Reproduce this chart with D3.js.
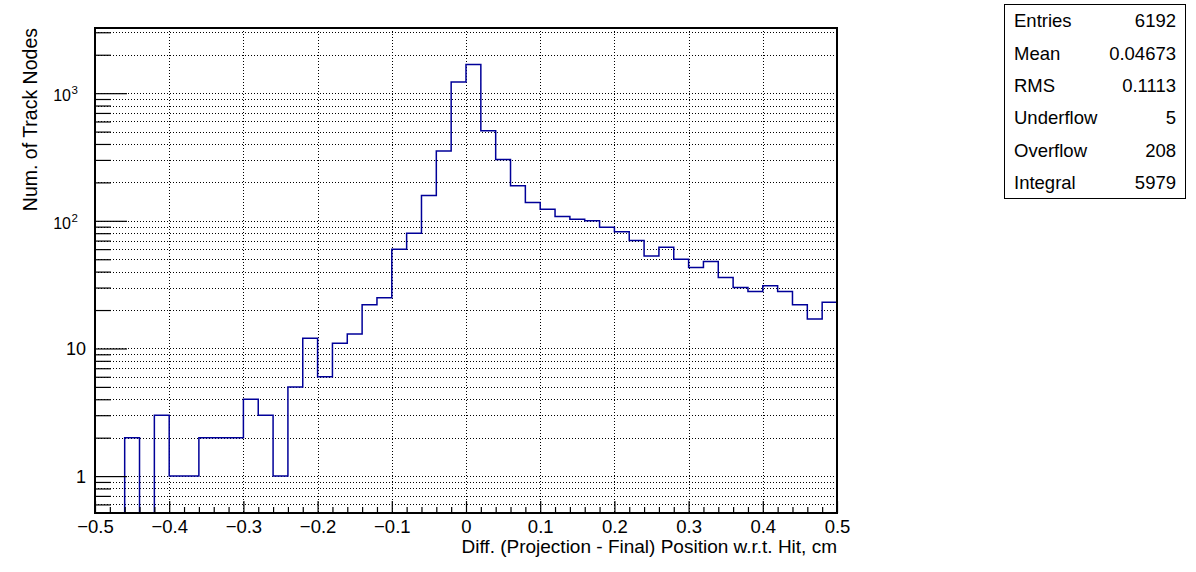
<!DOCTYPE html>
<html>
<head>
<meta charset="utf-8">
<script src="https://cdn.jsdelivr.net/npm/d3@7"></script>
<style>
  html, body { margin: 0; padding: 0; background: #fff; }
  text { font-family: "Liberation Sans", Arial, Helvetica, sans-serif; fill: #000; }
</style>
</head>
<body>
<svg id="chart" width="1196" height="572"></svg>
<script>
// ---- data ----
const binLowEdges = [-0.5,-0.48,-0.46,-0.44,-0.42,-0.4,-0.38,-0.36,-0.34,-0.32,
  -0.3,-0.28,-0.26,-0.24,-0.22,-0.2,-0.18,-0.16,-0.14,-0.12,
  -0.1,-0.08,-0.06,-0.04,-0.02,0,0.02,0.04,0.06,0.08,
  0.1,0.12,0.14,0.16,0.18,0.2,0.22,0.24,0.26,0.28,
  0.3,0.32,0.34,0.36,0.38,0.4,0.42,0.44,0.46,0.48];
const binHighEdge = 0.5;
const counts = [0,0,2,0,3,1,1,2,2,2,
  4,3,1,5,12,6,11,13,22,25,
  60,80,158,353,1225,1675,507,302,188,139,
  123,108,103,100,89,82,70,53,62,50,
  43,48,36,30,28,31,28,22,17,23];

const xMajorTicks = [-0.5,-0.4,-0.3,-0.2,-0.1,0,0.1,0.2,0.3,0.4,0.5];
const xTickLabels = ["\u22120.5","\u22120.4","\u22120.3","\u22120.2","\u22120.1","0","0.1","0.2","0.3","0.4","0.5"];
const xMinorTicks = [-0.48,-0.46,-0.44,-0.42,-0.38,-0.36,-0.34,-0.32,-0.28,-0.26,-0.24,-0.22,
  -0.18,-0.16,-0.14,-0.12,-0.08,-0.06,-0.04,-0.02,0.02,0.04,0.06,0.08,
  0.12,0.14,0.16,0.18,0.22,0.24,0.26,0.28,0.32,0.34,0.36,0.38,0.42,0.44,0.46,0.48];
const yMajorTicks = [1,10,100,1000];
const yMajorBase = ["1","10","10","10"];
const yMajorExp = ["","","2","3"];
const yMinorTicks = [0.6,0.7,0.8,0.9,2,3,4,5,6,7,8,9,20,30,40,50,60,70,80,90,
  200,300,400,500,600,700,800,900,2000,3000];
const yDomain = [0.514, 3240];

const statsLabels = ["Entries","Mean","RMS","Underflow","Overflow","Integral"];
const statsValues = ["6192","0.04673","0.1113","5","208","5979"];

const xTitle = "Diff. (Projection - Final) Position w.r.t. Hit, cm";
const yTitle = "Num. of Track Nodes";

// ---- layout ----
const L = 95, R = 837, T = 28, B = 513;
const svg = d3.select("#chart");
svg.append("rect").attr("width",1196).attr("height",572).attr("fill","#fff");

const x = d3.scaleLinear().domain([-0.5, 0.5]).range([L, R]);
const y = d3.scaleLog().domain(yDomain).range([B, T]).clamp(true);

// gridlines
const grid = svg.append("g").attr("stroke","#000").attr("stroke-width",1).attr("stroke-dasharray","1,2");
xMajorTicks.filter(v => v > -0.5 && v < 0.5).forEach(v => {
  const px = Math.round(x(v)) + 0.5;
  grid.append("line").attr("x1",px).attr("x2",px).attr("y1",T).attr("y2",B);
});
yMajorTicks.concat(yMinorTicks).forEach(v => {
  const py = Math.round(y(v)) + 0.5;
  grid.append("line").attr("x1",L).attr("x2",R).attr("y1",py).attr("y2",py);
});

// histogram
const pts = binLowEdges.map((e,i) => [e, counts[i]]);
pts.push([binHighEdge, counts[counts.length-1]]);
const line = d3.line()
  .x(d => x(d[0]))
  .y(d => d[1] > 0 ? y(d[1]) : B)
  .curve(d3.curveStepAfter);
svg.append("path").attr("d", line(pts))
  .attr("fill","none").attr("stroke","#000099").attr("stroke-width",1.5);

// axes ticks
function styleAxis(g){ g.select(".domain").remove(); g.selectAll("line").attr("stroke","#000").attr("stroke-width",1.2); }
svg.append("g").attr("transform",`translate(0,${B})`)
  .call(d3.axisTop(x).tickValues(xMajorTicks).tickSize(12).tickFormat("")).call(styleAxis);
svg.append("g").attr("transform",`translate(0,${B})`)
  .call(d3.axisTop(x).tickValues(xMinorTicks).tickSize(6).tickFormat("")).call(styleAxis);
svg.append("g").attr("transform",`translate(${L},0)`)
  .call(d3.axisRight(y).tickValues(yMajorTicks).tickSize(32).tickFormat("")).call(styleAxis);
svg.append("g").attr("transform",`translate(${L},0)`)
  .call(d3.axisRight(y).tickValues(yMinorTicks).tickSize(16).tickFormat("")).call(styleAxis);

// x tick labels
const xl = svg.append("g").attr("transform",`translate(0,${B})`)
  .call(d3.axisBottom(x).tickValues(xMajorTicks).tickSize(0).tickPadding(0)
    .tickFormat((d,i) => xTickLabels[i]));
xl.select(".domain").remove();
xl.selectAll("text").attr("font-size",18.5).attr("dy",null).attr("y",19.5)
  .attr("font-family",'"Liberation Sans", Arial, sans-serif');

// y tick labels
yMajorTicks.forEach((v,i) => {
  const py = y(v);
  if (yMajorExp[i] === "") {
    svg.append("text").attr("x",86).attr("y",py+6.5).attr("text-anchor","end")
      .attr("font-size",18).text(yMajorBase[i]);
  } else {
    svg.append("text").attr("x",71).attr("y",py+8).attr("text-anchor","end")
      .attr("font-size",16).text(yMajorBase[i]);
    svg.append("text").attr("x",71.5).attr("y",py+1).attr("font-size",11.5).text(yMajorExp[i]);
  }
});

// frame
svg.append("rect").attr("x",L).attr("y",T).attr("width",R-L).attr("height",B-T)
  .attr("fill","none").attr("stroke","#000").attr("stroke-width",2);

// titles
svg.append("text").attr("x",R).attr("y",553).attr("text-anchor","end")
  .attr("font-size",19).text(xTitle);
svg.append("text").attr("transform",`translate(37,${T}) rotate(-90)`)
  .attr("text-anchor","end").attr("font-size",19.5).text(yTitle);

// stats box
const sb = {x:1004.5, y:4.5, w:181, h:194};
svg.append("rect").attr("x",sb.x).attr("y",sb.y).attr("width",sb.w).attr("height",sb.h)
  .attr("fill","#fff").attr("stroke","#000").attr("stroke-width",1);
const rowH = sb.h / statsLabels.length;
statsLabels.forEach((lab,i) => {
  const cy = sb.y + rowH*(i+0.5) + 6.5;
  svg.append("text").attr("x",1014).attr("y",cy).attr("font-size",18.5).text(lab);
  svg.append("text").attr("x",1176).attr("y",cy).attr("text-anchor","end")
    .attr("font-size",18.5).text(statsValues[i]);
});
</script>
</body>
</html>
